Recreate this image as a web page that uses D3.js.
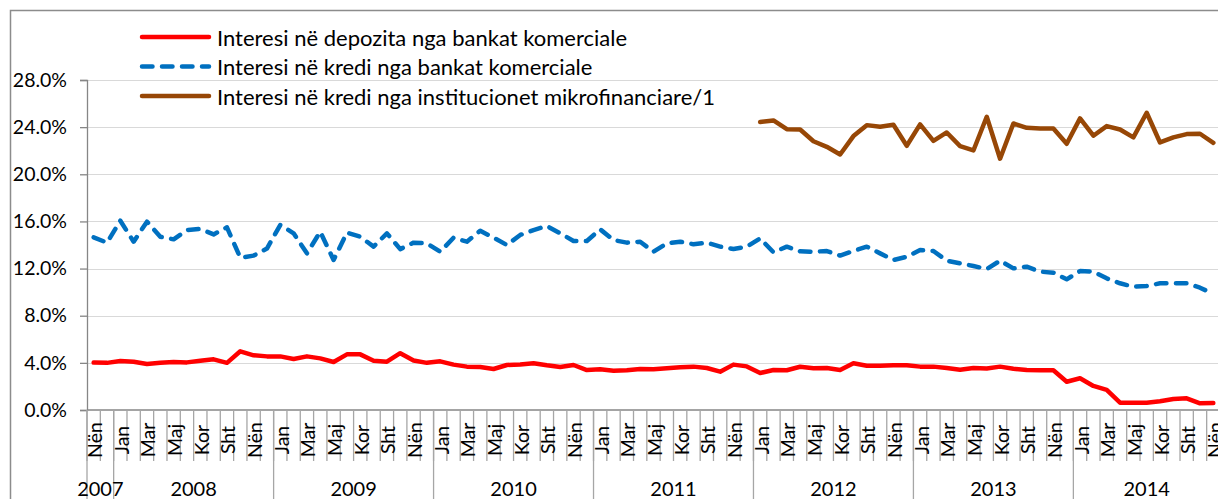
<!DOCTYPE html>
<html>
<head>
<meta charset="utf-8">
<script src="https://cdn.jsdelivr.net/npm/d3@7"></script>
<style>
  body { margin: 0; background: #fff; }
  text { font-family: Lato, "Open Sans", sans-serif; fill: #000; }
</style>
</head>
<body>
<svg id="chart" width="1218" height="499"></svg>
<script>
// --- data (monthly, Nën 2007 .. Nën 2014)
const monthNames = ['Jan', 'Shk', 'Mar', 'Pri', 'Maj', 'Qer', 'Kor', 'Gus', 'Sht', 'Tet', 'Nën', 'Dhj']
const years = ['2007', '2008', '2009', '2010', '2011', '2012', '2013', '2014']
const monthsInYear = [2, 12, 12, 12, 12, 12, 12, 11]
const firstMonth = 10 // Nëntor 2007

const depozita = [
  4.02, 4.00, 4.15, 4.10, 3.90, 4.00, 4.07, 4.04, 4.18, 4.30, 4.00, 4.98, 4.64, 4.55, 4.55, 4.33, 4.55, 4.38, 4.07, 4.72, 4.72, 4.18, 4.10, 4.82, 4.20,
  4.00, 4.13, 3.85, 3.68, 3.65, 3.48, 3.82, 3.87, 3.96, 3.79, 3.65, 3.82, 3.39, 3.45, 3.34, 3.37, 3.48, 3.45, 3.54, 3.62, 3.68, 3.56, 3.25, 3.85, 3.70, 3.14, 3.39, 3.37, 3.67, 3.55,
  3.56, 3.39, 3.96, 3.76, 3.76, 3.79, 3.79, 3.68, 3.68, 3.56, 3.42, 3.56, 3.53, 3.68, 3.50, 3.39, 3.37, 3.37, 2.40, 2.69, 2.04, 1.70, 0.62, 0.62, 0.62, 0.74, 0.93, 0.99, 0.57, 0.59
]
const krediBanka = [
  14.65, 14.20, 16.06, 14.28, 15.98, 14.70, 14.48, 15.27, 15.36, 14.90, 15.50, 12.92, 13.10, 13.70, 15.70, 14.99, 13.29, 15.13, 12.73, 15.05, 14.70, 13.86, 14.99, 13.65, 14.20,
  14.14, 13.43, 14.62, 14.28, 15.21, 14.62, 14.00, 14.85, 15.27, 15.61, 14.99, 14.34, 14.34, 15.33, 14.42, 14.20, 14.28, 13.43, 14.14, 14.28, 14.06, 14.20, 13.86, 13.66, 13.86, 14.56, 13.38, 13.86, 13.46, 13.43,
  13.49, 13.10, 13.49, 13.86, 13.29, 12.73, 13.00, 13.57, 13.49, 12.67, 12.44, 12.22, 11.96, 12.67, 12.02, 12.16, 11.74, 11.65, 11.09, 11.79, 11.74, 11.17, 10.75, 10.46, 10.52, 10.75, 10.75, 10.75, 10.38, 9.84
]
// microfinance series starts in Jan 2012
const mikroStart = 50
const krediMikro = [
  24.43, 24.57, 23.83, 23.80, 22.80, 22.33, 21.68, 23.24, 24.17, 24.03, 24.20, 22.42, 24.23, 22.84, 23.55, 22.39, 22.02, 24.88,
  21.32, 24.31, 23.94, 23.89, 23.89, 22.59, 24.74, 23.27, 24.09, 23.80, 23.13, 25.22, 22.70, 23.13, 23.41, 23.44, 22.67
]
const yTicks = [0, 4, 8, 12, 16, 20, 24, 28]

const series = [
  {name: 'Interesi në depozita nga bankat komerciale', color: '#ff0000', dash: null, start: 0, values: depozita},
  {name: 'Interesi në kredi nga bankat komerciale', color: '#0070c0', dash: '10.5 9.5', start: 0, values: krediBanka},
  {name: 'Interesi në kredi nga institucionet mikrofinanciare/1', color: '#974706', dash: null, start: mikroStart, values: krediMikro}
]

// month categories, one per point
const nMonths = d3.sum(monthsInYear)
const categories = d3.range(nMonths).map(i => monthNames[(firstMonth + i) % 12])

// --- layout
const svg = d3.select('#chart')
const plotLeft = 87
const plotRight = 1220
const plotTop = 80
const plotBottom = 410

const x = d3.scaleBand().domain(d3.range(nMonths)).range([plotLeft, plotRight])
const y = d3.scaleLinear().domain([0, 28]).range([plotBottom, plotTop])

// outer chart border (only top and left visible)
svg.append('path')
  .attr('d', 'M10.5,499V10.5H1218')
  .attr('fill', 'none')
  .attr('stroke', '#8c8c8c')
  .attr('stroke-width', 1.5)

// gridlines
svg.append('g')
  .selectAll('line')
  .data(yTicks.filter(d => d > 0))
  .join('line')
  .attr('x1', plotLeft)
  .attr('x2', 1218)
  .attr('y1', d => Math.round(y(d)) + 0.5)
  .attr('y2', d => Math.round(y(d)) + 0.5)
  .attr('stroke', '#d9d9d9')
  .attr('stroke-width', 1.2)

// y axis
const yAxis = svg.append('g')
  .attr('transform', `translate(${plotLeft},0)`)
  .call(d3.axisLeft(y).tickValues(yTicks).tickSize(7).tickPadding(13)
    .tickFormat(d => d3.format('.1f')(d) + '%'))
yAxis.select('.domain').attr('stroke', '#868686').attr('stroke-width', 1.3)
yAxis.selectAll('.tick line').attr('stroke', '#868686').attr('stroke-width', 1.3)
yAxis.selectAll('.tick text').style('font-size', '19.5px').attr('fill', '#000')

// x axis: baseline, month ticks, year dividers
const xg = svg.append('g')
xg.append('line')
  .attr('x1', plotLeft).attr('x2', 1218)
  .attr('y1', plotBottom).attr('y2', plotBottom)
  .attr('stroke', '#868686').attr('stroke-width', 1.5)

xg.selectAll('.mtick')
  .data(d3.range(nMonths + 1))
  .join('line')
  .attr('class', 'mtick')
  .attr('x1', i => i < nMonths ? x(i) : x(nMonths - 1) + x.bandwidth())
  .attr('x2', i => i < nMonths ? x(i) : x(nMonths - 1) + x.bandwidth())
  .attr('y1', plotBottom)
  .attr('y2', 461)
  .attr('stroke', '#a6a6a6')
  .attr('stroke-width', 1.3)

// year boundaries run down to the bottom edge
const yearStarts = monthsInYear.map((m, k) => d3.sum(monthsInYear.slice(0, k)))
xg.selectAll('.ytick')
  .data(yearStarts)
  .join('line')
  .attr('class', 'ytick')
  .attr('x1', i => x(i))
  .attr('x2', i => x(i))
  .attr('y1', plotBottom)
  .attr('y2', 499)
  .attr('stroke', '#a6a6a6')
  .attr('stroke-width', 1.3)

// month labels every other category, rotated
xg.selectAll('.mlabel')
  .data(d3.range(0, nMonths, 2))
  .join('text')
  .attr('class', 'mlabel')
  .attr('transform', i => `translate(${x(i) + x.bandwidth() / 2 + 1},440) rotate(-90)`)
  .attr('text-anchor', 'middle')
  .attr('dominant-baseline', 'central')
  .style('font-size', '19.5px')
  .text(i => categories[i])

// year labels, centered on their group
xg.selectAll('.ylabel')
  .data(years)
  .join('text')
  .attr('class', 'ylabel')
  .attr('x', (d, k) => {
    const a = x(yearStarts[k])
    const b = x(yearStarts[k] + monthsInYear[k] - 1) + x.bandwidth()
    return (a + b) / 2
  })
  .attr('y', 496)
  .attr('text-anchor', 'middle')
  .style('font-size', '20px')
  .text(d => d)

// --- lines
const line = d3.line()
  .x(d => x(d.i) + x.bandwidth() / 2)
  .y(d => y(d.v))

svg.append('g')
  .selectAll('path')
  .data(series)
  .join('path')
  .attr('d', s => line(s.values.map((v, k) => ({i: s.start + k, v}))))
  .attr('fill', 'none')
  .attr('stroke', s => s.color)
  .attr('stroke-width', 4.5)
  .attr('stroke-linejoin', 'round')
  .attr('stroke-linecap', 'round')
  .attr('stroke-dasharray', s => s.dash)

// --- legend
const legend = svg.append('g')
  .selectAll('g')
  .data(series)
  .join('g')
  .attr('transform', (s, k) => `translate(0,${37 + k * 29.5})`)
legend.append('line')
  .attr('x1', 142).attr('x2', 209)
  .attr('y1', 0).attr('y2', 0)
  .attr('stroke', s => s.color)
  .attr('stroke-width', 4.5)
  .attr('stroke-linecap', 'round')
  .attr('stroke-dasharray', s => s.dash)
legend.append('text')
  .attr('x', 217)
  .attr('y', 0)
  .attr('dominant-baseline', 'central')
  .style('font-size', '22px')
  .text(s => s.name)
</script>
</body>
</html>
